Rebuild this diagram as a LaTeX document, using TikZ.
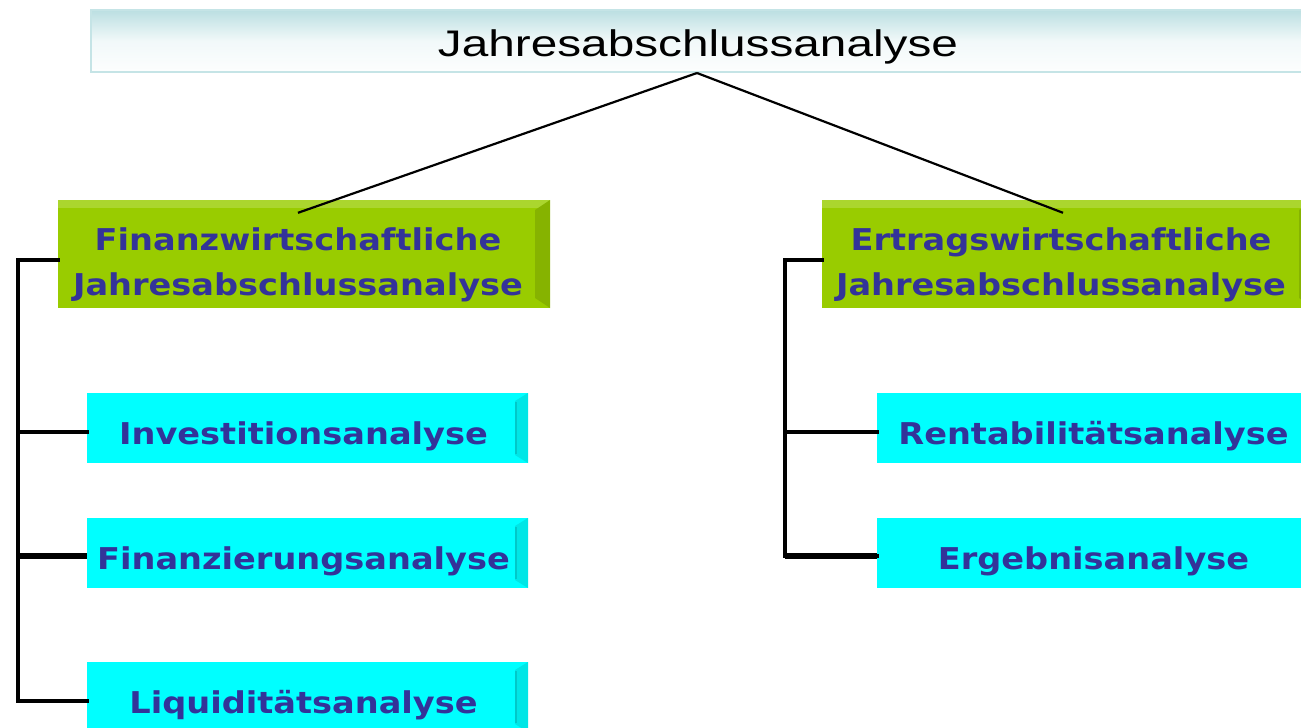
\documentclass[tikz,border=0pt]{standalone}
\usepackage{fontspec}
\usepackage{graphicx}
\setmainfont{Liberation Sans}
\newfontfamily\boxfont{DejaVu Sans}
\definecolor{txtblue}{HTML}{333399}
\definecolor{grn}{HTML}{99CC00}
\definecolor{grnlight}{HTML}{ABD62E}
\definecolor{grndark}{HTML}{86B300}
\definecolor{cyn}{HTML}{00FFFF}
\definecolor{cyndark}{HTML}{00E6E6}
\definecolor{cynline}{HTML}{00C8C8}
\definecolor{topc}{HTML}{BBDFE2}
% #1 = lowering, #2 = extra right space (shifts text left by half), #3 = text
\newcommand{\boxtxt}[3]{\raisebox{-#1}[\height][\depth]{\scalebox{1.12}[1]{#3}}\hspace*{#2}}
\tikzset{
  greenbox/.style={rectangle, fill=grn, minimum width=492pt, minimum height=108pt,
    inner sep=0pt, text=txtblue, font=\boxfont\bfseries\fontsize{30}{45}\selectfont,
    path picture={
      \fill[grnlight] (path picture bounding box.north west) rectangle ([yshift=-8pt]path picture bounding box.north east);
      \fill[grndark] (path picture bounding box.north east) -- ++(-15pt,-10pt)
        -- ([xshift=-15pt,yshift=10pt]path picture bounding box.south east)
        -- (path picture bounding box.south east) -- cycle;
    }},
  cyanbox/.style={rectangle, fill=cyn, minimum width=441pt, minimum height=70pt,
    inner sep=0pt, text=txtblue, font=\boxfont\bfseries\fontsize{30}{36}\selectfont,
    path picture={
      \fill[cyndark] (path picture bounding box.north east) -- ++(-13pt,-8pt)
        -- ([xshift=-13pt,yshift=8pt]path picture bounding box.south east)
        -- (path picture bounding box.south east) -- cycle;
      \draw[cynline, line width=1.2pt] ([xshift=-12pt,yshift=-9pt]path picture bounding box.north east)
        -- ([xshift=-12pt,yshift=9pt]path picture bounding box.south east);
    }},
  topbox/.style={rectangle, minimum width=1220pt, minimum height=62pt, inner sep=0pt,
    draw=topc!85, line width=2pt,
    top color=topc, bottom color=white!97!topc, middle color=white!80!topc,
    font=\fontsize{37}{40}\selectfont, text=black},
  thinlink/.style={line width=2.2pt, black},
  treelink/.style={line width=4pt, black, line cap=rect},
  thicklink/.style={line width=6pt, black}
}
\begin{document}
\begin{tikzpicture}[x=1pt, y=-1pt]
\useasboundingbox (0,0) rectangle (1301,728);

\node[topbox] (top) at (700.5,41) {\raisebox{-6pt}[\height][\depth]{\scalebox{1.29}[1]{Jahresabschlussanalyse}}\hspace*{5pt}};

\node[greenbox] (gl) at (304,254) {\boxtxt{10pt}{12pt}{\begin{tabular}{@{}c@{}}Finanzwirtschaftliche\\Jahresabschlussanalyse\end{tabular}}};
\node[greenbox] (gr) at (1068,254) {\boxtxt{10pt}{14pt}{\begin{tabular}{@{}c@{}}Ertragswirtschaftliche\\Jahresabschlussanalyse\end{tabular}}};

\node[cyanbox] (c1) at (307.5,428) {\boxtxt{8pt}{8pt}{Investitionsanalyse}};
\node[cyanbox] (c2) at (307.5,553) {\boxtxt{8pt}{8pt}{Finanzierungsanalyse}};
\node[cyanbox] (c3) at (307.5,697) {\boxtxt{8pt}{8pt}{Liquiditätsanalyse}};

\node[cyanbox] (r1) at (1097.5,428) {\boxtxt{8pt}{8pt}{Rentabilitätsanalyse}};
\node[cyanbox] (r2) at (1097.5,553) {\boxtxt{8pt}{8pt}{Ergebnisanalyse}};

\draw[thinlink] ([xshift=-3.5pt]top.south) -- ([xshift=-6pt,yshift=-13pt]gl.north);
\draw[thinlink] ([xshift=-3.5pt]top.south) -- ([xshift=-5pt,yshift=-13pt]gr.north);

\coordinate (c1j) at ([yshift=-4pt]c1.west);
\coordinate (c2j) at ([yshift=-3pt]c2.west);
\coordinate (c3j) at ([yshift=-4pt]c3.west);
\coordinate (r1j) at ([yshift=-4pt]r1.west);
\coordinate (r2j) at ([yshift=-3pt]r2.west);

\draw[treelink] ([yshift=-6pt]gl.west) -- ++(-40pt,0pt) coordinate (lt) |- (c3j);
\draw[treelink] (lt |- c1j) -- (c1j);
\draw[thicklink] (lt |- c2j) -- (c2j);

\draw[treelink] ([yshift=-6pt]gr.west) -- ++(-37pt,0pt) coordinate (rt) |- (r2j);
\draw[treelink] (rt |- r1j) -- (r1j);
\draw[thicklink] (rt |- r2j) -- (r2j);
\end{tikzpicture}
\end{document}
